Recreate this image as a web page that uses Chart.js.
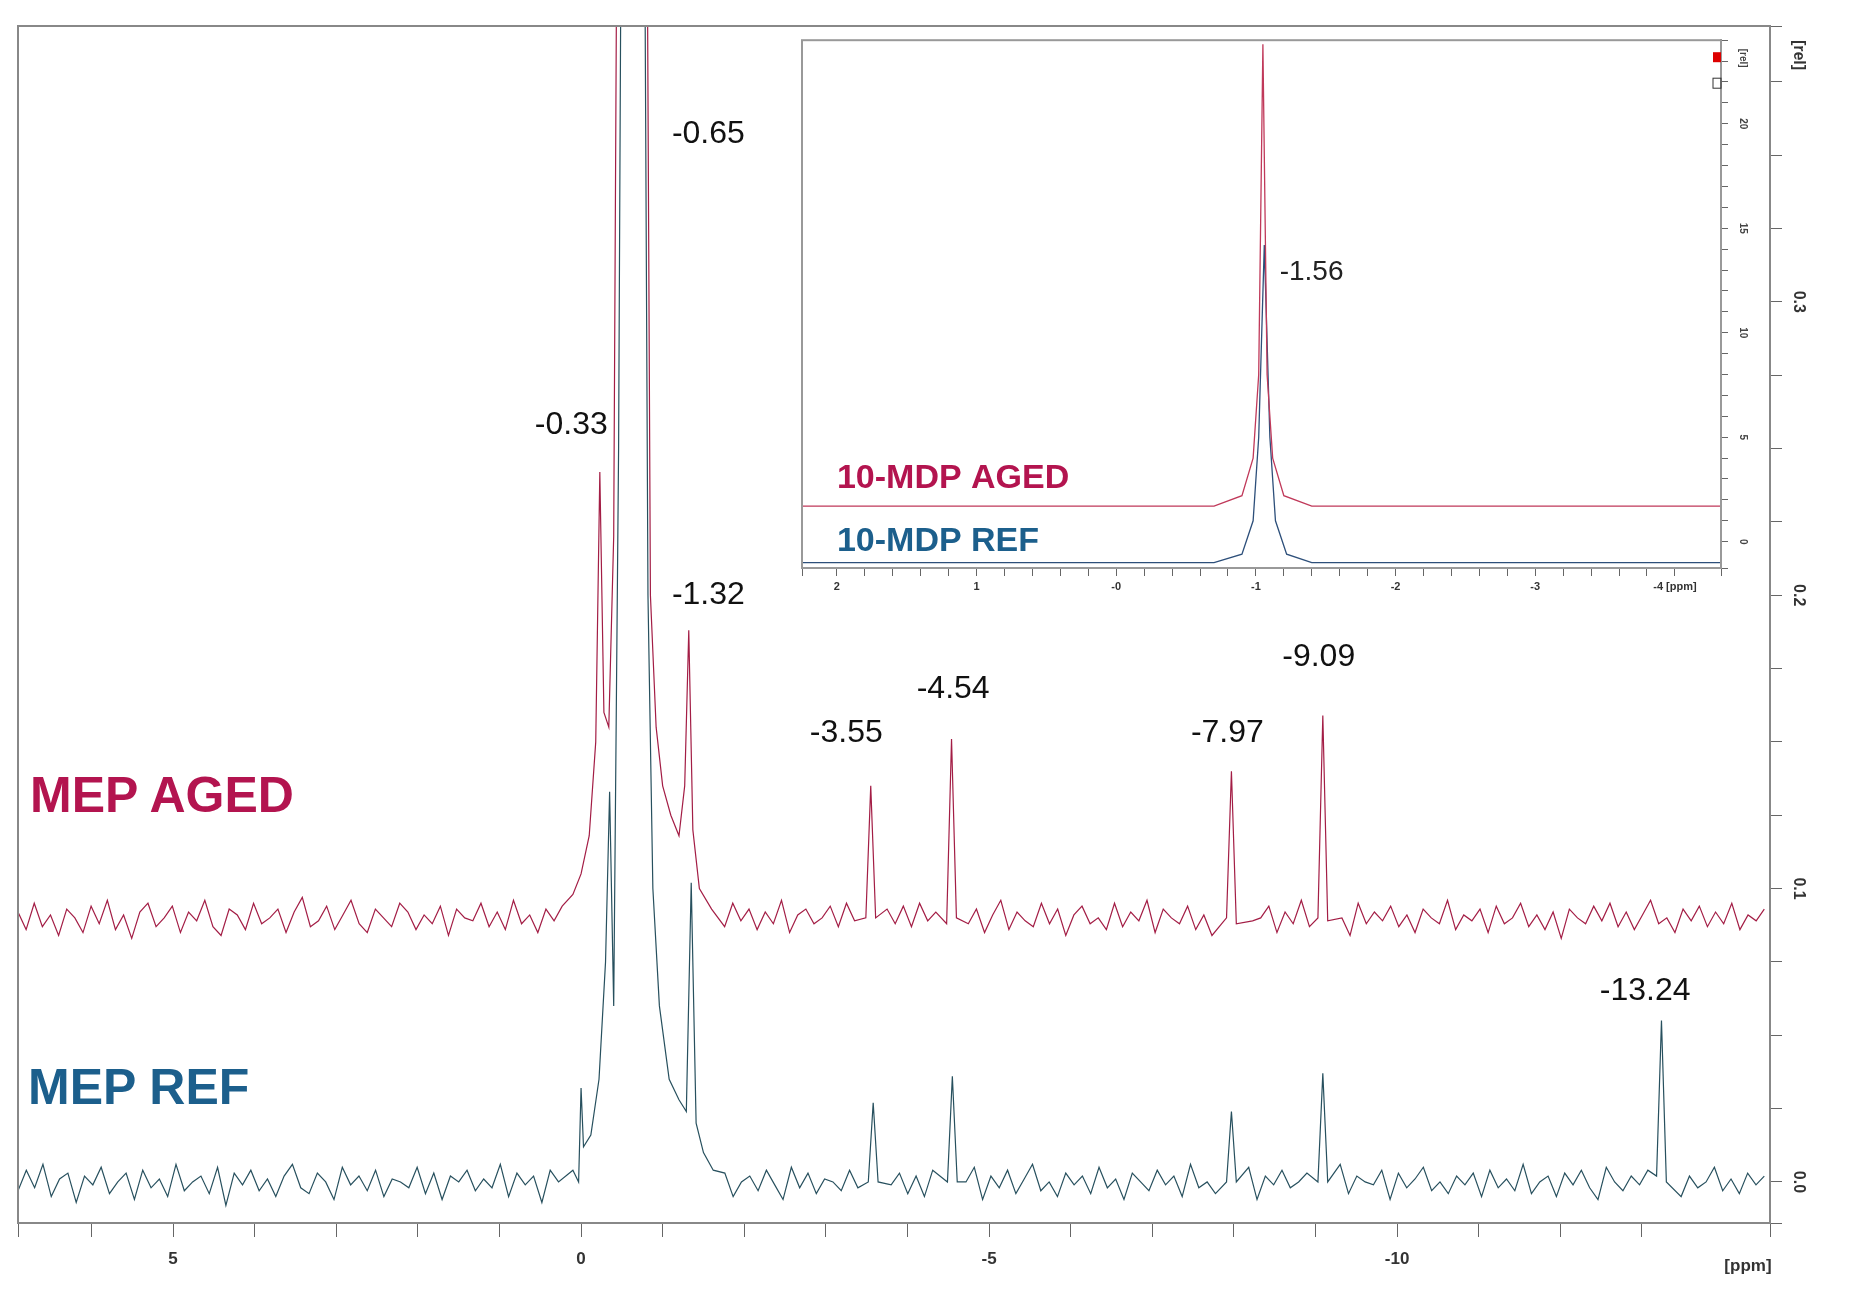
<!DOCTYPE html>
<html><head><meta charset="utf-8">
<script src="https://cdn.jsdelivr.net/npm/chart.js@4"></script>
<style>
body{margin:0;background:#fff;width:1863px;height:1308px;position:relative;overflow:hidden;font-family:Arial,"Liberation Sans",sans-serif}
#main{position:absolute;left:0;top:0}
#insetBox{position:absolute;left:787px;top:30px;width:1000px;height:600px}
.lab{position:absolute;font-weight:bold;font-size:50px;font-family:"Liberation Sans",Arial,sans-serif}
</style></head><body>
<canvas id="main" width="1863" height="1308"></canvas>
<div id="insetBox"><canvas id="inset" width="1000" height="600"></canvas></div>
<div class="lab" style="left:30px;top:766px;color:#b3144f">MEP AGED</div>
<div class="lab" style="left:28px;top:1058px;color:#1c5f8c">MEP REF</div>
<script>
// ---- main spectrum data ----
const xStart = 6.9, xEnd = -14.5;
const redBase = 0.09, blueBase = 0.0;
const redNoise = [2,-4,5,-3,1,-6,3,0,-5,4,-2,6,-4,1,-7,2,5,-3,0,4,-5,2,-1,6,-3,-6,3,1,-4,5,-2,0,3,-5,2,7,-3,-1,4,-4,1,6,-2,-5,3,0,-3,5,2,-4,1,-2,4,-6,3,0,-1,5,-3,2,-4,6,-2,1,-5,3,-1,4,-3,0,2,-6,5,-2,1,-4,3,0,-5,4,-2,6,-3,1,-7,2,0,-3,5,-1,3,-4,2,-2,6,-5,1,3,-2,0,4,-3,5,-1,2,-4,1,3,-2,4,
  -3,5,-1,2,-6,4,0,-2,3,-5,1,6,-4,2,-1,-3,5,-2,3,-6,1,4,-2,0,-4,5,-3,2,-1,6,-5,3,0,-2,4,-4,1,-6,3,2,-3,5,-1,0,4,-5,2,-2,6,-3,1,-4,3,0,-6,5,-2,2,-1,4,-3,1,-5,3,0,-2,6,-4,1,-1,3,-5,4,-2,0,5,-3,1,-4,2,-7,3,0,-2,4,-1,5,-3,2,-4,1,6,-2,0,-5,3,-1,4,-3,2,-2,5,-4,1,-1,3];
const blueNoise = [-3,4,-2,6,-5,1,3,-7,2,-1,5,-4,0,3,-6,4,-2,1,-5,6,-3,0,2,-4,5,-8,3,-1,4,-3,1,-5,2,6,-2,-4,3,0,-6,5,-1,2,-3,4,-5,1,0,-2,5,-4,3,-6,2,0,4,-3,1,-2,6,-5,3,-1,2,-7,4,0,-3,5,-2,1,-4,3,-6,2,5,-1,-3,4,0,-5,2,-2,6,-4,1,3,-5,0,2,-3,4,-1,-6,5,-2,3,-4,1,0,-3,4,-2,5,-5,2,-1,3,-4,
  2,-5,4,-1,3,-3,0,5,-6,2,-2,4,-4,1,6,-3,0,-5,3,-1,2,-4,5,-2,1,-6,3,0,-3,4,-1,2,-5,6,-2,0,-4,3,1,-3,5,-6,2,-1,4,-2,0,3,-5,1,-3,6,-4,2,0,-1,4,-6,3,-2,1,5,-3,0,-4,2,-1,3,-5,4,-2,1,-3,6,-4,0,2,-5,3,-1,4,-2,-6,5,0,-3,2,-1,4,-4,1,3,-5,2,-2,0,5,-3,1,-4,3,-1,2];
const redPeaksX = [0.10,0.0,-0.10,-0.18,-0.23,-0.28,-0.34,-0.40,-0.47,-0.65,-0.78,-0.85,-0.92,-1.00,-1.10,-1.20,-1.27,-1.32,-1.37,-1.45,-1.60,
  -3.49,-3.55,-3.61, -4.48,-4.54,-4.60, -7.91,-7.97,-8.03, -9.03,-9.09,-9.15];
const redPeaksY = [0.098,0.105,0.118,0.15,0.242,0.16,0.155,0.22,0.6,0.8,0.6,0.2,0.155,0.135,0.125,0.118,0.135,0.188,0.12,0.1,0.093,
  0.09,0.135,0.09, 0.088,0.151,0.09, 0.09,0.14,0.088, 0.09,0.159,0.089];
const bluePeaksX = [0.10,0.03,0.0,-0.03,-0.12,-0.22,-0.30,-0.35,-0.40,-0.46,-0.52,-0.65,-0.75,-0.82,-0.88,-0.96,-1.08,-1.20,-1.29,-1.35,-1.41,-1.50,-1.62,
  -3.52,-3.58,-3.64, -4.49,-4.55,-4.61, -7.91,-7.97,-8.03, -9.03,-9.09,-9.15, -13.18,-13.24,-13.30];
const bluePeaksY = [0.004,0.0,0.032,0.012,0.016,0.035,0.075,0.133,0.06,0.25,0.6,0.9,0.6,0.2,0.1,0.06,0.035,0.028,0.024,0.102,0.02,0.01,0.004,
  0.0,0.027,0.0, 0.0,0.036,0.0, 0.0,0.024,0.0, 0.0,0.037,0.0, 0.002,0.055,0.0];
const peakLabels = ['-0.65','-0.33','-1.32','-3.55','-4.54','-7.97','-9.09','-13.24'];
const peakLabelX = [-1.56,0.12,-1.56,-3.25,-4.56,-7.92,-9.04,-13.04];
const peakLabelY = [0.357,0.258,0.2,0.153,0.168,0.153,0.179,0.065];
const yTickLabels = ['0.0','0.1','0.2','0.3'];
const xTickLabels = {'5':'5','0':'0','-5':'-5','-10':'-10'};

// ---- inset data ----
const insetRedX = [2.25,-0.70,-0.90,-0.98,-1.02,-1.05,-1.08,-1.12,-1.20,-1.40,-4.33];
const insetRedY = [1.7,1.7,2.2,4,8,23.8,8,4,2.2,1.7,1.7];
const insetBlueX = [2.25,-0.70,-0.90,-0.98,-1.02,-1.06,-1.10,-1.14,-1.22,-1.40,-4.33];
const insetBlueY = [-1.0,-1.0,-0.6,1,5,14.2,5,1,-0.6,-1.0,-1.0];
const insetTickLabels = ['2','1','-0','-1','-2','-3','-4 [ppm]'];
const insetYTicks = ['0','5','10','15','20'];

function buildSeries(noise, base, px, py){
  const pts = [];
  const step = (xStart - xEnd)/(noise.length-1);
  const near = x => x<=0.15 && x>=-1.65 || px.some(p=>Math.abs(p-x)<0.1);
  noise.forEach((n,i)=>{const x=xStart-i*step; if(!near(x)) pts.push({x, y: base+n/1000});});
  px.forEach((x,i)=>pts.push({x, y: py[i]}));
  return pts.sort((a,b)=>b.x-a.x);
}
const redData = buildSeries(redNoise, redBase, redPeaksX, redPeaksY);
const blueData = buildSeries(blueNoise, blueBase, bluePeaksX, bluePeaksY);

const mainPlugin = {
  id:'mainText',
  afterDraw(c){
    const ctx=c.ctx, xs=c.scales.x, ys=c.scales.y, a=c.chartArea;
    ctx.save();
    ctx.fillStyle='#111'; ctx.font='32px "Liberation Sans",Arial'; ctx.textAlign='center'; ctx.textBaseline='middle';
    peakLabels.forEach((t,i)=>ctx.fillText(t, xs.getPixelForValue(peakLabelX[i]), ys.getPixelForValue(peakLabelY[i])));
    ctx.font='bold 16px "Liberation Sans",Arial'; ctx.fillStyle='#333';
    yTickLabels.forEach(t=>{
      const y=ys.getPixelForValue(parseFloat(t));
      ctx.save(); ctx.translate(a.right+28,y); ctx.rotate(Math.PI/2); ctx.fillText(t,0,0); ctx.restore();
    });
    ctx.save(); ctx.translate(a.right+28,55); ctx.rotate(Math.PI/2); ctx.fillText('[rel]',0,0); ctx.restore();
    ctx.font='bold 17px "Liberation Sans",Arial';
    ctx.fillText('[ppm]', xs.getPixelForValue(-14.3), a.bottom+43);
    ctx.strokeStyle='#888'; ctx.lineWidth=2; ctx.strokeRect(a.left,a.top,a.right-a.left,a.bottom-a.top);
    ctx.restore();
  }
};

new Chart(document.getElementById('main'),{
  type:'line',
  data:{datasets:[
    {data:redData,borderColor:'#a31d45',borderWidth:1.2,pointRadius:0,tension:0},
    {data:blueData,borderColor:'#27505e',borderWidth:1.2,pointRadius:0,tension:0}
  ]},
  options:{
    responsive:false,animation:false,
    layout:{padding:{left:18,top:26,right:0,bottom:0}},
    plugins:{legend:{display:false},tooltip:{enabled:false}},
    scales:{
      x:{type:'linear',reverse:true,min:-14.57,max:6.9,
        afterFit(s){s.height=85;},
        grid:{drawOnChartArea:false,tickLength:14,color:'#666'},border:{color:'#888',width:2},
        ticks:{stepSize:1,autoSkip:false,maxRotation:0,padding:12,color:'#333',font:{size:17,weight:'bold'},
          callback:v=>xTickLabels[String(Math.round(v))]||''}},
      y:{position:'right',min:-0.014,max:0.394,
        afterFit(s){s.width=93;},
        grid:{drawOnChartArea:false,tickLength:12,color:'#666'},border:{color:'#888',width:2},
        ticks:{stepSize:0.025,autoSkip:false,callback:()=>''}}
    }
  },
  plugins:[mainPlugin]
});

const insetPlugin = {
  id:'insetText',
  beforeDraw(c){const a=c.chartArea,ctx=c.ctx;ctx.save();ctx.fillStyle='#fff';ctx.fillRect(a.left,a.top,a.right-a.left,a.bottom-a.top);ctx.restore();},
  afterDraw(c){
    const ctx=c.ctx, xs=c.scales.x, ys=c.scales.y, a=c.chartArea;
    ctx.save();
    ctx.textBaseline='middle';
    ctx.fillStyle='#222'; ctx.font='28px "Liberation Sans",Arial'; ctx.textAlign='left';
    ctx.fillText('-1.56', xs.getPixelForValue(-1.17), ys.getPixelForValue(12.9));
    ctx.font='bold 34px "Liberation Sans",Arial';
    ctx.fillStyle='#b3144f'; ctx.fillText('10-MDP AGED', xs.getPixelForValue(2.0), ys.getPixelForValue(3.0));
    ctx.fillStyle='#1c5f8c'; ctx.fillText('10-MDP REF', xs.getPixelForValue(2.0), ys.getPixelForValue(0.0));
    ctx.font='bold 10px "Liberation Sans",Arial'; ctx.fillStyle='#444'; ctx.textAlign='center';
    insetYTicks.forEach(t=>{const y=ys.getPixelForValue(+t);ctx.save();ctx.translate(a.right+22,y);ctx.rotate(Math.PI/2);ctx.fillText(t,0,0);ctx.restore();});
    ctx.save();ctx.translate(a.right+22,a.top+18);ctx.rotate(Math.PI/2);ctx.fillText('[rel]',0,0);ctx.restore();
    ctx.strokeStyle='#999';ctx.lineWidth=2;ctx.strokeRect(a.left,a.top,a.right-a.left,a.bottom-a.top);
    ctx.fillStyle='#d00';ctx.fillRect(a.right-8,a.top+12,8,10);
    ctx.strokeStyle='#333';ctx.lineWidth=1;ctx.strokeRect(a.right-8,a.top+38,8,10);
    ctx.restore();
  }
};
new Chart(document.getElementById('inset'),{
  type:'line',
  data:{datasets:[
    {data:insetRedX.map((x,i)=>({x,y:insetRedY[i]})),borderColor:'#c0395a',borderWidth:1.3,pointRadius:0,tension:0},
    {data:insetBlueX.map((x,i)=>({x,y:insetBlueY[i]})),borderColor:'#2d4f7a',borderWidth:1.3,pointRadius:0,tension:0}
  ]},
  options:{
    responsive:false,animation:false,
    layout:{padding:{left:15,top:10,right:0,bottom:0}},
    plugins:{legend:{display:false},tooltip:{enabled:false}},
    scales:{
      x:{type:'linear',reverse:true,min:-4.33,max:2.25,
        afterFit(s){s.height=62;},
        grid:{drawOnChartArea:false,tickLength:8,color:'#666'},border:{color:'#999',width:2},
        ticks:{stepSize:0.2,autoSkip:false,maxRotation:0,padding:4,color:'#333',font:{size:11,weight:'bold'},
          callback:v=>{const r=Math.round(v*10)/10; if(Math.abs(r-Math.round(r))>0.01) return ''; const i=2-Math.round(r); return insetTickLabels[i]||'';}}},
      y:{position:'right',min:-1.26,max:24,
        afterFit(s){s.width=66;},
        grid:{drawOnChartArea:false,tickLength:7,color:'#666'},border:{color:'#999',width:2},
        ticks:{stepSize:1,autoSkip:false,callback:()=>''}}
    }
  },
  plugins:[insetPlugin]
});
</script></body></html>
